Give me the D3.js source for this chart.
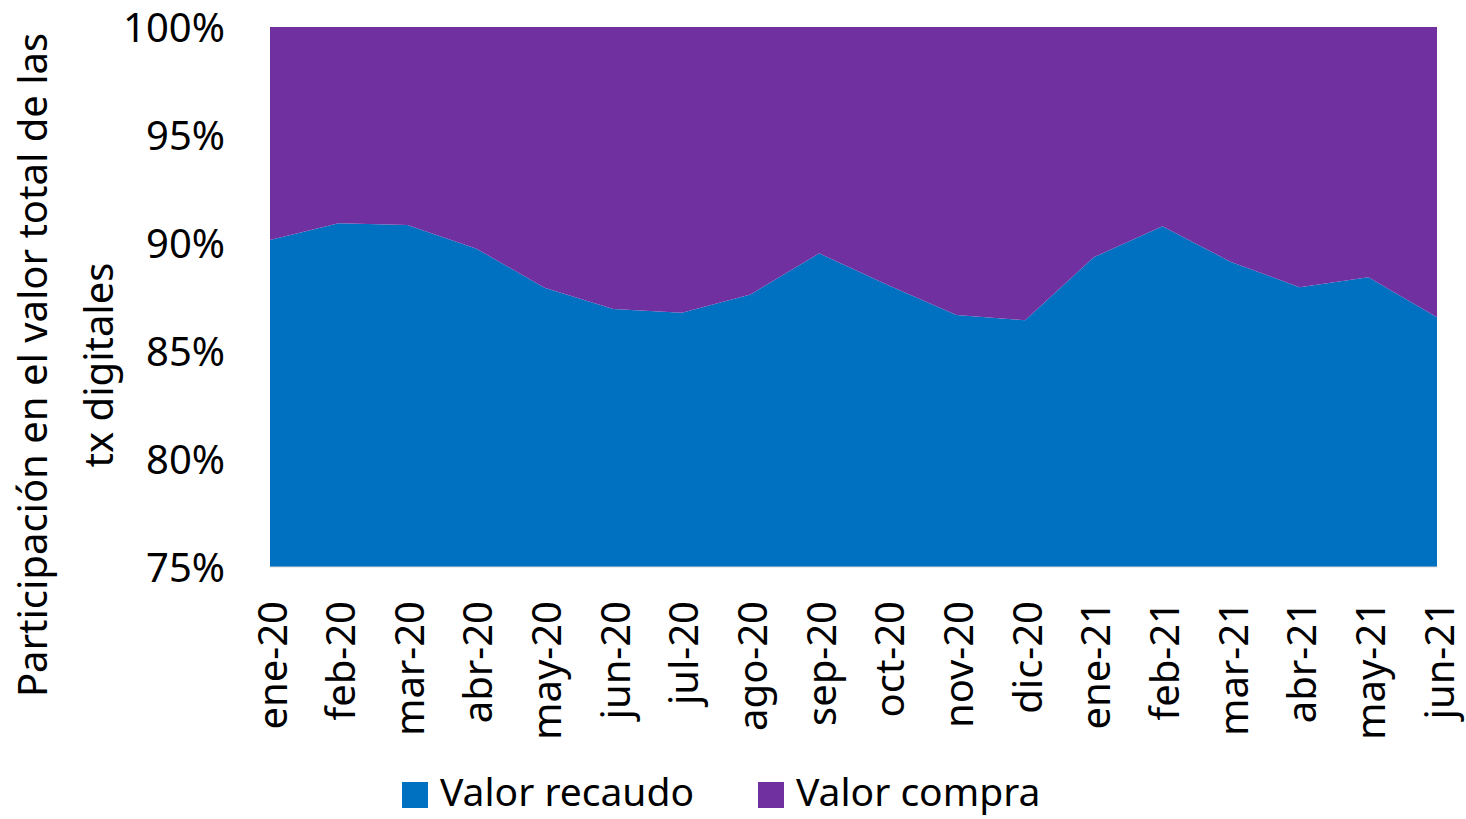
<!DOCTYPE html>
<html>
<head>
<meta charset="utf-8">
<script src="https://cdn.jsdelivr.net/npm/d3@7"></script>
<style>
  body { margin: 0; background: #fff; }
  svg text { font-family: "Noto Sans", "Open Sans", sans-serif; fill: #000; }
</style>
</head>
<body>
<div id="chart"></div>
<script>
// data
const months = ["ene-20","feb-20","mar-20","abr-20","may-20","jun-20","jul-20","ago-20","sep-20",
  "oct-20","nov-20","dic-20","ene-21","feb-21","mar-21","abr-21","may-21","jun-21"];
const recaudo = [90.14, 90.91, 90.83, 89.75, 87.93, 86.94, 86.77, 87.62, 89.52,
  88.05, 86.67, 86.42, 89.34, 90.77, 89.12, 87.95, 88.41, 86.56];
const compra = recaudo.map(v => 100 - v);
const yTicks = [75, 80, 85, 90, 95, 100];
const seriesNames = ["Valor recaudo", "Valor compra"];
const colours = ["#0070C0", "#7030A0"];

const W = 1466, H = 819;
const margin = { top: 27, right: 29, bottom: 252, left: 270 };
const width = W - margin.left - margin.right;
const height = H - margin.top - margin.bottom;

const svg = d3.select("#chart").append("svg")
    .attr("width", W)
    .attr("height", H);

const g = svg.append("g")
    .attr("transform", "translate(" + margin.left + "," + margin.top + ")");

const x = d3.scalePoint().domain(months).range([0, width]);
const y = d3.scaleLinear().domain([75, 100]).range([height, 0]);

// stack the two series
const rows = months.map((m, i) => ({ month: m, recaudo: recaudo[i], compra: compra[i] }));
const stack = d3.stack().keys(["recaudo", "compra"]);
const layers = stack(rows);

const area = d3.area()
    .x(d => x(d.data.month))
    .y0(d => y(Math.max(75, d[0])))
    .y1(d => y(Math.max(75, d[1])));

g.selectAll("path.layer")
    .data(layers)
    .enter()
    .append("path")
    .attr("class", "layer")
    .attr("fill", (d, i) => colours[i])
    .attr("d", area);

// bottom axis line
g.append("line")
    .attr("x1", 0).attr("x2", width)
    .attr("y1", height).attr("y2", height)
    .attr("stroke", "#d9d9d9")
    .attr("stroke-width", 1);

// y axis
const yAxis = g.append("g")
    .call(d3.axisLeft(y).tickValues(yTicks).tickSize(0).tickPadding(45).tickFormat(d => d + "%"));
yAxis.select(".domain").remove();
yAxis.selectAll("text")
    .attr("font-size", "40px")
    .attr("dy", "0.35em");

// x axis
const xAxis = g.append("g")
    .attr("transform", "translate(0," + height + ")")
    .call(d3.axisBottom(x).tickSize(0));
xAxis.select(".domain").remove();
xAxis.selectAll("text")
    .attr("font-size", "40px")
    .attr("text-anchor", "end")
    .attr("transform", "rotate(-90)")
    .attr("x", -34)
    .attr("y", 2)
    .attr("dy", "0.35em");

// y title, two lines
const titleY = svg.append("text")
    .attr("transform", "translate(0,365) rotate(-90)")
    .attr("text-anchor", "middle")
    .attr("font-size", "40px");
titleY.append("tspan").attr("x", 0).attr("y", 47).text("Participación en el valor total de las");
titleY.append("tspan").attr("x", 0).attr("y", 113).text("tx digitales");

// legend
const legendX = [402, 758];
const legend = svg.selectAll("g.legend")
    .data(seriesNames)
    .enter()
    .append("g")
    .attr("class", "legend")
    .attr("transform", (d, i) => "translate(" + legendX[i] + ",782)");
legend.append("rect")
    .attr("width", 26).attr("height", 26)
    .attr("fill", (d, i) => colours[i]);
legend.append("text")
    .attr("x", 38).attr("y", 24)
    .attr("font-size", "39px")
    .text(d => d);
</script>
</body>
</html>
